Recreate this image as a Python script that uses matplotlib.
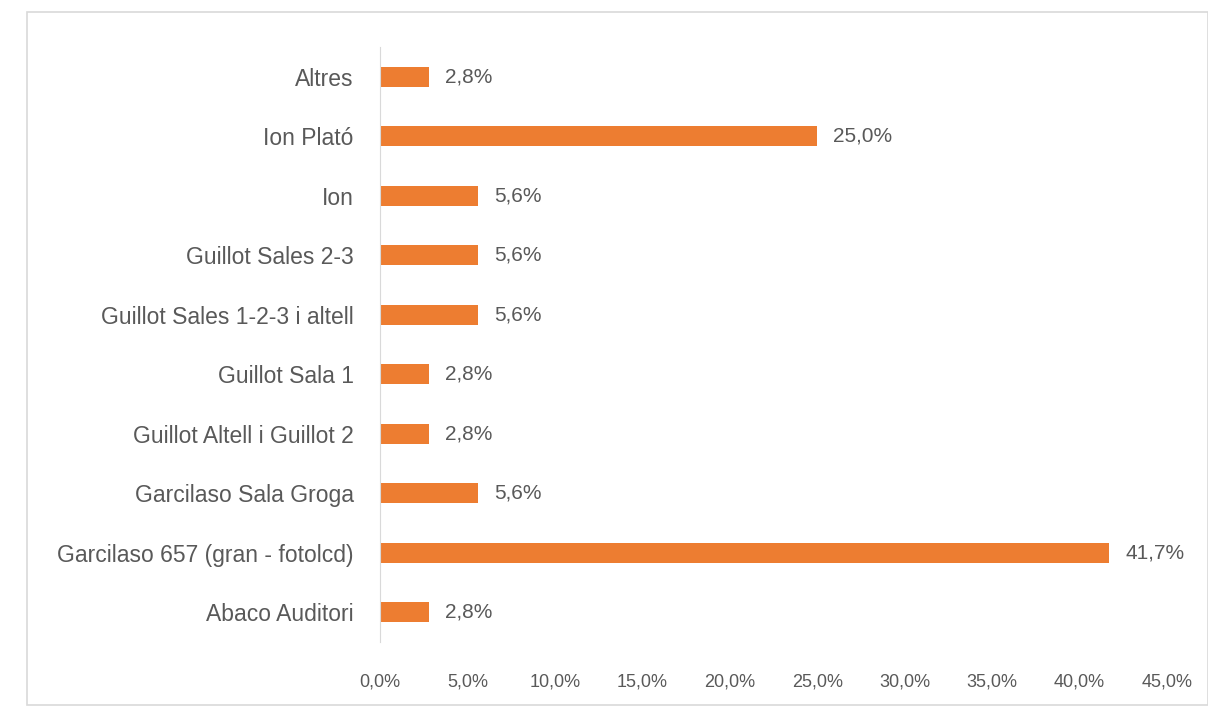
import matplotlib
matplotlib.use("Agg")
import matplotlib.pyplot as plt
from matplotlib.patches import Rectangle

categories = ["Abaco Auditori", "Garcilaso 657 (gran - fotolcd)", "Garcilaso Sala Groga",
              "Guillot Altell i Guillot 2", "Guillot Sala 1", "Guillot Sales 1-2-3 i altell",
              "Guillot Sales 2-3", "Ion", "Ion Plató", "Altres"]
values = [2.8, 41.7, 5.6, 2.8, 2.8, 5.6, 5.6, 5.6, 25.0, 2.8]
xticks = [0, 5, 10, 15, 20, 25, 30, 35, 40, 45]

plt.rcParams['font.family'] = ['Liberation Sans', 'DejaVu Sans']
fig = plt.figure(figsize=(12.08, 7.10), dpi=100)
fig.patches.append(Rectangle((27/1208, 5/710), 1 - 27/1208, 1 - 17/710, transform=fig.transFigure,
                             fill=False, edgecolor='#D9D9D9', linewidth=1.2))
ax = fig.add_axes([380/1208, 1 - 642/710, (1167 - 380)/1208, (642 - 47)/710])
txt = '#595959'
ypos = list(range(len(categories)))
ax.barh(ypos, values, height=0.34, color='#ED7D31')
for y, v in zip(ypos, values):
    ax.text(v + 0.9, y, f"{v:.1f}%".replace('.', ','), va='center', ha='left', fontsize=15, color=txt)
ax.set_xlim(0, 45)
ax.set_ylim(-0.5, len(categories) - 0.5)
ax.set_yticks(ypos)
ax.set_yticklabels(categories, fontsize=16.5, color=txt)
ax.set_xticks(xticks)
ax.set_xticklabels([f"{t:.1f}%".replace('.', ',') for t in xticks], fontsize=13, color=txt)
ax.tick_params(length=0, pad=19, axis='y')
ax.tick_params(length=0, pad=23, axis='x')
for s in ['top', 'right', 'bottom']:
    ax.spines[s].set_visible(False)
ax.spines['left'].set_color('#D9D9D9')
fig.savefig("out.png", dpi=100)
